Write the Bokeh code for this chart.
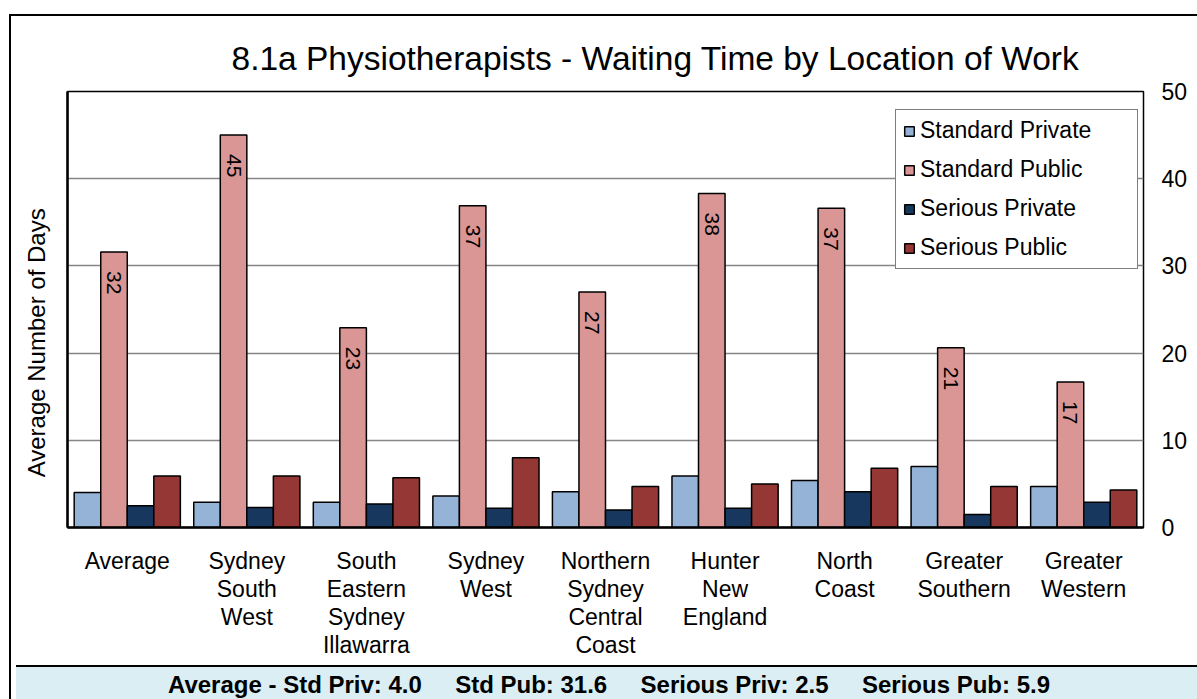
import math
from bokeh.plotting import figure
from bokeh.layouts import column
from bokeh.models import (LinearAxis, FixedTicker, Range1d,
                          ColumnDataSource, Legend, LegendItem, Div)
from bokeh.transform import dodge
from bokeh.core.properties import value
from bokeh.embed import file_html
from bokeh.resources import INLINE

# ---------------- data ----------------
categories = ["Average", "Sydney South West", "South Eastern Sydney Illawarra", "Sydney West",
              "Northern Sydney Central Coast", "Hunter New England", "North Coast",
              "Greater Southern", "Greater Western"]
category_labels = ["Average", "Sydney\nSouth\nWest", "South\nEastern\nSydney\nIllawarra",
                   "Sydney\nWest", "Northern\nSydney\nCentral\nCoast", "Hunter\nNew\nEngland",
                   "North\nCoast", "Greater\nSouthern", "Greater\nWestern"]
standard_private = [4.0, 2.9, 2.9, 3.6, 4.1, 5.9, 5.4, 7.0, 4.7]
standard_public = [31.6, 45.0, 22.9, 36.9, 27.0, 38.3, 36.6, 20.6, 16.7]
serious_private = [2.5, 2.3, 2.7, 2.2, 2.0, 2.2, 4.1, 1.5, 2.9]
serious_public = [5.9, 5.9, 5.7, 8.0, 4.7, 5.0, 6.8, 4.7, 4.3]
series_names = ["Standard Private", "Standard Public", "Serious Private", "Serious Public"]
series_colors = ["#95B3D7", "#D99694", "#17375E", "#953735"]
y_ticks = [0, 10, 20, 30, 40, 50]

title_text = "8.1a Physiotherapists - Waiting Time by Location of Work"
y_label = "Average Number of Days"

FONT = "Liberation Sans"
NB = "\u00a0"

n_cat = len(categories)
centers = [j + 0.5 for j in range(n_cat)]   # slot centres of the categories

source = ColumnDataSource(dict(
    cat=categories,
    xc=centers,
    s0=standard_private,
    s1=standard_public,
    s2=serious_private,
    s3=serious_public,
    s1_label=["%d" % int(round(v)) for v in standard_public],
))

p = figure(width=1186, height=644, x_range=Range1d(0, n_cat), y_range=Range1d(0, 50),
           output_backend="svg", toolbar_location=None, y_axis_location=None, x_axis_location=None,
           min_border_left=56, min_border_right=54, min_border_top=75, min_border_bottom=133,
           background_fill_color="white", border_fill_color="white")

p.title.text = title_text
p.title.align = "left"
p.title.offset = 164
p.title.text_font = FONT
p.title.text_font_size = "33.5px"
p.title.text_font_style = "normal"
p.title.text_color = "black"
p.title.standoff = 30

p.outline_line_color = "black"
p.outline_line_width = 1.5

p.xgrid.visible = False
p.ygrid.ticker = FixedTicker(ticks=y_ticks)
p.ygrid.grid_line_color = "#868686"
p.ygrid.grid_line_width = 1.5

# x axes: one axis per text line of the category labels
split_labels = [lab.split("\n") for lab in category_labels]
n_lines = max(len(s) for s in split_labels)
for k in range(n_lines):
    overrides = {c: (s[k] if k < len(s) else NB) for c, s in zip(centers, split_labels)}
    ax = LinearAxis(ticker=FixedTicker(ticks=centers),
                    major_label_overrides=overrides,
                    major_label_text_font=FONT, major_label_text_font_size="23px",
                    major_label_text_color="black",
                    major_label_standoff=20 if k == 0 else -1,
                    major_tick_out=0, major_tick_in=0,
                    major_tick_line_color=None, minor_tick_line_color=None,
                    axis_line_color="black" if k == 0 else None,
                    axis_line_width=2.5)
    p.add_layout(ax, "below")

# left axis: line and title only
left_axis = LinearAxis(ticker=FixedTicker(ticks=[]),
                       axis_label=y_label + NB * 10,
                       axis_label_text_font=FONT, axis_label_text_font_size="24px",
                       axis_label_text_font_style="normal", axis_label_text_color="black",
                       axis_label_standoff=18,
                       axis_line_color="black", axis_line_width=2.5,
                       major_tick_out=0, major_tick_in=0,
                       major_tick_line_color=None, minor_tick_line_color=None)
p.add_layout(left_axis, "left")

# right axis: tick labels
right_axis = LinearAxis(ticker=FixedTicker(ticks=y_ticks),
                        major_label_text_font=FONT, major_label_text_font_size="23px",
                        major_label_text_color="black", major_label_standoff=18,
                        major_tick_out=0, major_tick_in=0,
                        major_tick_line_color=None, minor_tick_line_color=None,
                        axis_line_color=None)
p.add_layout(right_axis, "right")

# bars
w = 0.222
offsets = [-1.5 * w, -0.5 * w, 0.5 * w, 1.5 * w]
renderers = []
for i, (name, color) in enumerate(zip(series_names, series_colors)):
    r = p.vbar(x=dodge("xc", offsets[i]), top="s%d" % i, width=w,
               source=source, fill_color=color, line_color="black", line_width=1.5)
    renderers.append(r)

# value labels on Standard Public bars
p.text(x=dodge("xc", offsets[1]), y="s1", text="s1_label", source=source,
       angle=-math.pi / 2, text_align="left", text_baseline="middle", y_offset=19,
       text_font=value(FONT), text_font_size="21px", text_color="black")

legend = Legend(items=[LegendItem(label=n, renderers=[r]) for n, r in zip(series_names, renderers)],
                location=(828, 258), orientation="vertical",
                label_text_font=FONT, label_text_font_size="23px", label_text_color="black",
                glyph_width=12, glyph_height=12, label_height=27, label_width=210,
                label_standoff=5, spacing=12, padding=7, margin=0,
                border_line_color="black", border_line_width=1.5,
                background_fill_color="white", background_fill_alpha=1)
p.add_layout(legend)

# bottom summary strip
sep = NB * 5
summary = ("Average - Std Priv: %.1f" % standard_private[0] + sep +
           "Std Pub: %.1f" % standard_public[0] + sep +
           "Serious Priv: %.1f" % serious_private[0] + sep +
           "Serious Pub: %.1f" % serious_public[0])
strip = Div(text=summary, width=1186, height=39,
            styles={"background-color": "#DAEEF3", "border-top": "2px solid black",
                    "box-sizing": "border-box", "text-align": "center",
                    "font-family": FONT, "font-size": "24px", "font-weight": "bold",
                    "color": "black", "padding-top": "4px", "white-space": "pre",
                    "line-height": "28px"})

layout = column(p, strip, spacing=0,
                styles={"border-left": "2px solid black", "border-top": "2px solid black",
                        "margin-left": "9px", "margin-top": "14px"})

open("out.html", "w").write(file_html(layout, INLINE))
